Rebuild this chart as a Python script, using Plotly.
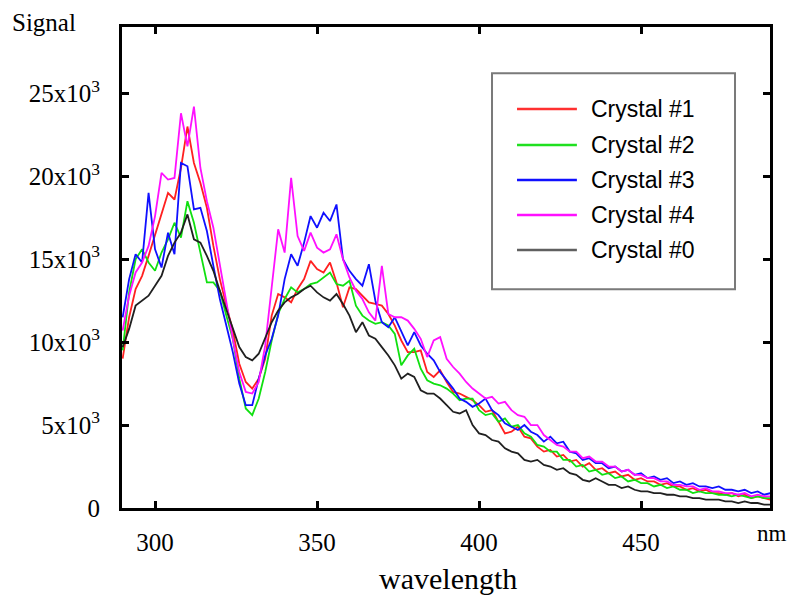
import plotly.graph_objects as go

# Wavelength grid (nm), 2 nm steps
wavelength = list(range(290, 491, 2))

# Signal values in units of 10^3 counts
crystal_1 = [9.0, 11.5, 13.2, 14.0, 15.2, 16.5, 17.8, 19.0, 18.6, 20.5,
             23.0, 20.8, 19.6, 18.1, 15.8, 13.8, 12.2, 10.7, 8.7, 7.6,
             7.2, 7.8, 9.0, 11.6, 12.9, 12.7, 12.4, 13.2, 13.8, 14.9,
             14.4, 14.2, 14.8, 13.6, 12.1, 13.3, 13.2, 12.8, 12.4, 12.3,
             12.2, 11.7, 11.0, 10.1, 9.4, 9.4, 9.5, 8.2, 7.9, 8.3,
             7.6, 7.0, 6.9, 6.7, 6.5,
             6.2, 5.8, 5.9, 5.2, 4.5, 4.6, 4.9, 4.3, 4.2, 3.7,
             3.4, 3.5, 3.1, 3.2, 2.8, 2.9, 2.5, 2.7, 2.3, 2.4,
             2.1, 2.2, 1.9, 2.0, 1.7, 1.8, 1.6, 1.6, 1.4, 1.5,
             1.3, 1.3, 1.1, 1.2, 1.0, 1.1, 0.9, 0.9, 0.8, 0.9,
             0.7, 0.8, 0.6, 0.7, 0.6, 0.5]

crystal_2 = [9.5, 13.0, 15.0, 15.6, 14.8, 14.3, 15.4, 16.2, 17.2, 16.3,
             18.5, 17.2, 15.4, 13.6, 13.6, 13.1, 11.6, 10.2, 7.8, 6.0,
             5.6, 6.6, 8.2, 10.1, 11.7, 12.6, 13.3, 13.0, 13.2, 13.5,
             13.6, 13.9, 14.2, 13.5, 13.4, 13.7, 12.2, 11.6, 11.3, 11.1,
             11.2, 11.0, 10.5, 8.6, 9.2, 9.6, 8.4, 7.7, 7.5, 7.4,
             7.2, 6.9, 6.5, 6.6, 6.6,
             5.9, 5.6, 5.7, 5.2, 5.4, 4.9, 5.0, 4.5, 4.3, 3.8,
             3.7, 3.4, 3.4, 2.9, 2.9, 2.5, 2.6, 2.2, 2.3, 2.0,
             2.1, 1.8, 1.9, 1.6, 1.7, 1.5, 1.5, 1.3, 1.4, 1.2,
             1.3, 1.1, 1.1, 0.9, 1.0, 0.9, 0.9, 0.8, 0.8, 0.7,
             0.8, 0.7, 0.6, 0.7, 0.6, 0.6]

crystal_3 = [11.5, 13.8, 15.3, 14.8, 19.0, 15.6, 14.5, 16.6, 15.3, 20.8,
             20.6, 18.0, 18.1, 16.7, 14.6, 12.6, 11.0, 9.4, 7.5, 6.2,
             6.2, 7.8, 9.2, 10.2, 11.6, 13.8, 15.3, 14.6, 16.0, 17.6,
             16.9, 17.8, 17.3, 18.3, 15.0, 14.3, 13.8, 13.4, 14.7, 12.5,
             11.2, 10.9, 11.5, 10.6, 9.8, 10.6, 9.8, 9.3, 8.9, 8.2,
             7.7, 7.2, 6.6, 6.4, 6.1,
             6.3, 6.6, 5.9, 5.6, 5.1, 4.9, 4.7, 5.0, 4.6, 4.4,
             4.0, 4.3, 3.9, 4.0, 3.4, 3.3, 2.9, 3.0, 2.7, 2.7,
             2.4, 2.5, 2.2, 2.3, 2.0, 2.1, 1.8, 1.9, 1.7, 1.8,
             1.5, 1.6, 1.4, 1.5, 1.3, 1.3, 1.2, 1.3, 1.1, 1.1,
             1.0, 1.1, 0.9, 1.0, 0.8, 0.9]

crystal_4 = [10.7, 12.8, 14.2, 14.8, 15.8, 17.6, 20.2, 19.8, 19.9, 23.8,
             21.8, 24.2, 20.5, 18.5, 16.9, 14.6, 12.3, 10.2, 8.2, 7.0,
             6.9, 7.6, 9.8, 13.4, 16.8, 15.4, 19.9, 16.4, 15.5, 16.6,
             15.7, 15.4, 15.6, 16.5, 15.0, 13.9, 13.1, 12.6, 11.8, 11.3,
             14.6, 11.7, 11.5, 11.5, 11.3, 10.8, 10.2, 9.1, 10.1, 10.3,
             9.0, 8.5, 8.1, 7.6, 7.2,
             6.9, 6.6, 6.7, 6.3, 6.4, 5.9, 5.6, 5.5, 5.0, 5.0,
             4.4, 4.1, 3.8, 3.7, 3.4, 3.4, 3.0, 3.1, 2.8, 2.8,
             2.5, 2.5, 2.2, 2.3, 2.0, 2.0, 1.8, 1.8, 1.6, 1.6,
             1.4, 1.4, 1.3, 1.3, 1.1, 1.2, 1.0, 1.0, 0.9, 0.9,
             0.8, 0.9, 0.7, 0.8, 0.7, 0.7]

crystal_0 = [9.7, 10.8, 12.2, 12.5, 12.8, 13.4, 14.0, 15.2, 16.0, 16.6,
             17.7, 16.2, 16.0, 15.2, 14.3, 13.1, 12.0, 10.8, 9.7, 9.1,
             8.9, 9.3, 10.3, 11.2, 11.9, 12.4, 12.7, 12.9, 13.2, 13.4,
             13.0, 12.7, 12.5, 12.9, 12.3, 11.6, 10.6, 11.2, 10.4, 10.2,
             9.7, 9.2, 8.6, 7.8, 8.1, 7.9, 7.1, 6.9, 6.9, 6.6,
             6.2, 5.8, 5.7, 5.9, 5.0,
             4.5, 4.4, 4.1, 4.0, 3.6, 3.4, 3.3, 2.9, 2.8, 2.9,
             2.6, 2.5, 2.3, 2.4, 2.1, 2.0, 1.7, 1.6, 1.8, 1.6,
             1.4, 1.4, 1.2, 1.3, 1.1, 1.0, 1.0, 0.9, 0.9, 0.8,
             0.8, 0.7, 0.7, 0.6, 0.6, 0.5, 0.5, 0.5, 0.4, 0.4,
             0.3, 0.4, 0.3, 0.3, 0.2, 0.2]

series_names = ["Crystal #1", "Crystal #2", "Crystal #3", "Crystal #4", "Crystal #0"]
series_values = [crystal_1, crystal_2, crystal_3, crystal_4, crystal_0]
series_colors = ["#ff2020", "#10e010", "#1010ff", "#ff10ff", "#202020"]
legend_colors = ["#ff3030", "#20e020", "#1010ff", "#ff10ff", "#606060"]

y_tick_vals = [0, 5000, 10000, 15000, 20000, 25000]
y_tick_text = ["0", "5x10<sup>3</sup>", "10x10<sup>3</sup>", "15x10<sup>3</sup>",
               "20x10<sup>3</sup>", "25x10<sup>3</sup>"]
x_tick_vals = [300, 350, 400, 450]

serif = "Liberation Serif, Times New Roman, serif"
sans = "Liberation Sans, Arial, sans-serif"

fig = go.Figure()
for name, vals, col in zip(series_names, series_values, series_colors):
    assert len(vals) == len(wavelength)
    fig.add_trace(go.Scatter(
        x=wavelength,
        y=[v * 1000 for v in vals],
        mode="lines",
        name=name,
        line=dict(color=col, width=1.8),
    ))

# Legend panel drawn in paper coordinates
box_x0, box_x1 = 0.571, 0.946
box_y0, box_y1 = 0.455, 0.904
sample_x0, sample_x1 = 0.6096, 0.702
text_x = 0.720
row_y = [0.8295, 0.7547, 0.6819, 0.6091, 0.5364]

shapes = [dict(type="rect", xref="paper", yref="paper",
               x0=box_x0, x1=box_x1, y0=box_y0, y1=box_y1,
               line=dict(color="#7a7a7a", width=2), fillcolor="white", layer="above")]
annotations = []
for name, col, ry in zip(series_names, legend_colors, row_y):
    shapes.append(dict(type="line", xref="paper", yref="paper",
                       x0=sample_x0, x1=sample_x1, y0=ry, y1=ry,
                       line=dict(color=col, width=2.5), layer="above"))
    annotations.append(dict(text=name, xref="paper", yref="paper", x=text_x, y=ry,
                            xanchor="left", yanchor="middle", showarrow=False,
                            font=dict(family=sans, size=23, color="black")))

annotations += [
    dict(text="Signal", xref="paper", yref="paper", x=-0.173, y=1.010,
         xanchor="left", yanchor="middle", showarrow=False,
         font=dict(family=serif, size=25, color="black")),
    dict(text="nm", xref="paper", yref="paper", x=1.003, y=-0.052,
         xanchor="center", yanchor="middle", showarrow=False,
         font=dict(family=serif, size=23, color="black")),
    dict(text="wavelength", xref="paper", yref="paper", x=0.503, y=-0.146,
         xanchor="center", yanchor="middle", showarrow=False,
         font=dict(family=serif, size=30, color="black")),
]

fig.update_layout(
    width=795, height=595,
    margin=dict(l=122, r=25, t=27, b=87),
    paper_bgcolor="white",
    plot_bgcolor="white",
    showlegend=False,
    xaxis=dict(
        range=[289.8, 489.8],
        tickvals=x_tick_vals,
        ticks="inside", ticklen=7, tickwidth=2.5, tickcolor="black",
        showline=True, linecolor="black", linewidth=3, mirror="ticks",
        showgrid=False, zeroline=False,
        tickfont=dict(family=serif, size=25, color="black"),
        ticklabelstandoff=10,
    ),
    yaxis=dict(
        range=[0, 29000],
        tickvals=y_tick_vals, ticktext=y_tick_text,
        ticks="inside", ticklen=7, tickwidth=2.5, tickcolor="black",
        showline=True, linecolor="black", linewidth=3, mirror="ticks",
        showgrid=False, zeroline=False,
        tickfont=dict(family=serif, size=25, color="black"),
        ticklabelstandoff=14,
    ),
    shapes=shapes,
    annotations=annotations,
)

fig.write_html("out.html")
